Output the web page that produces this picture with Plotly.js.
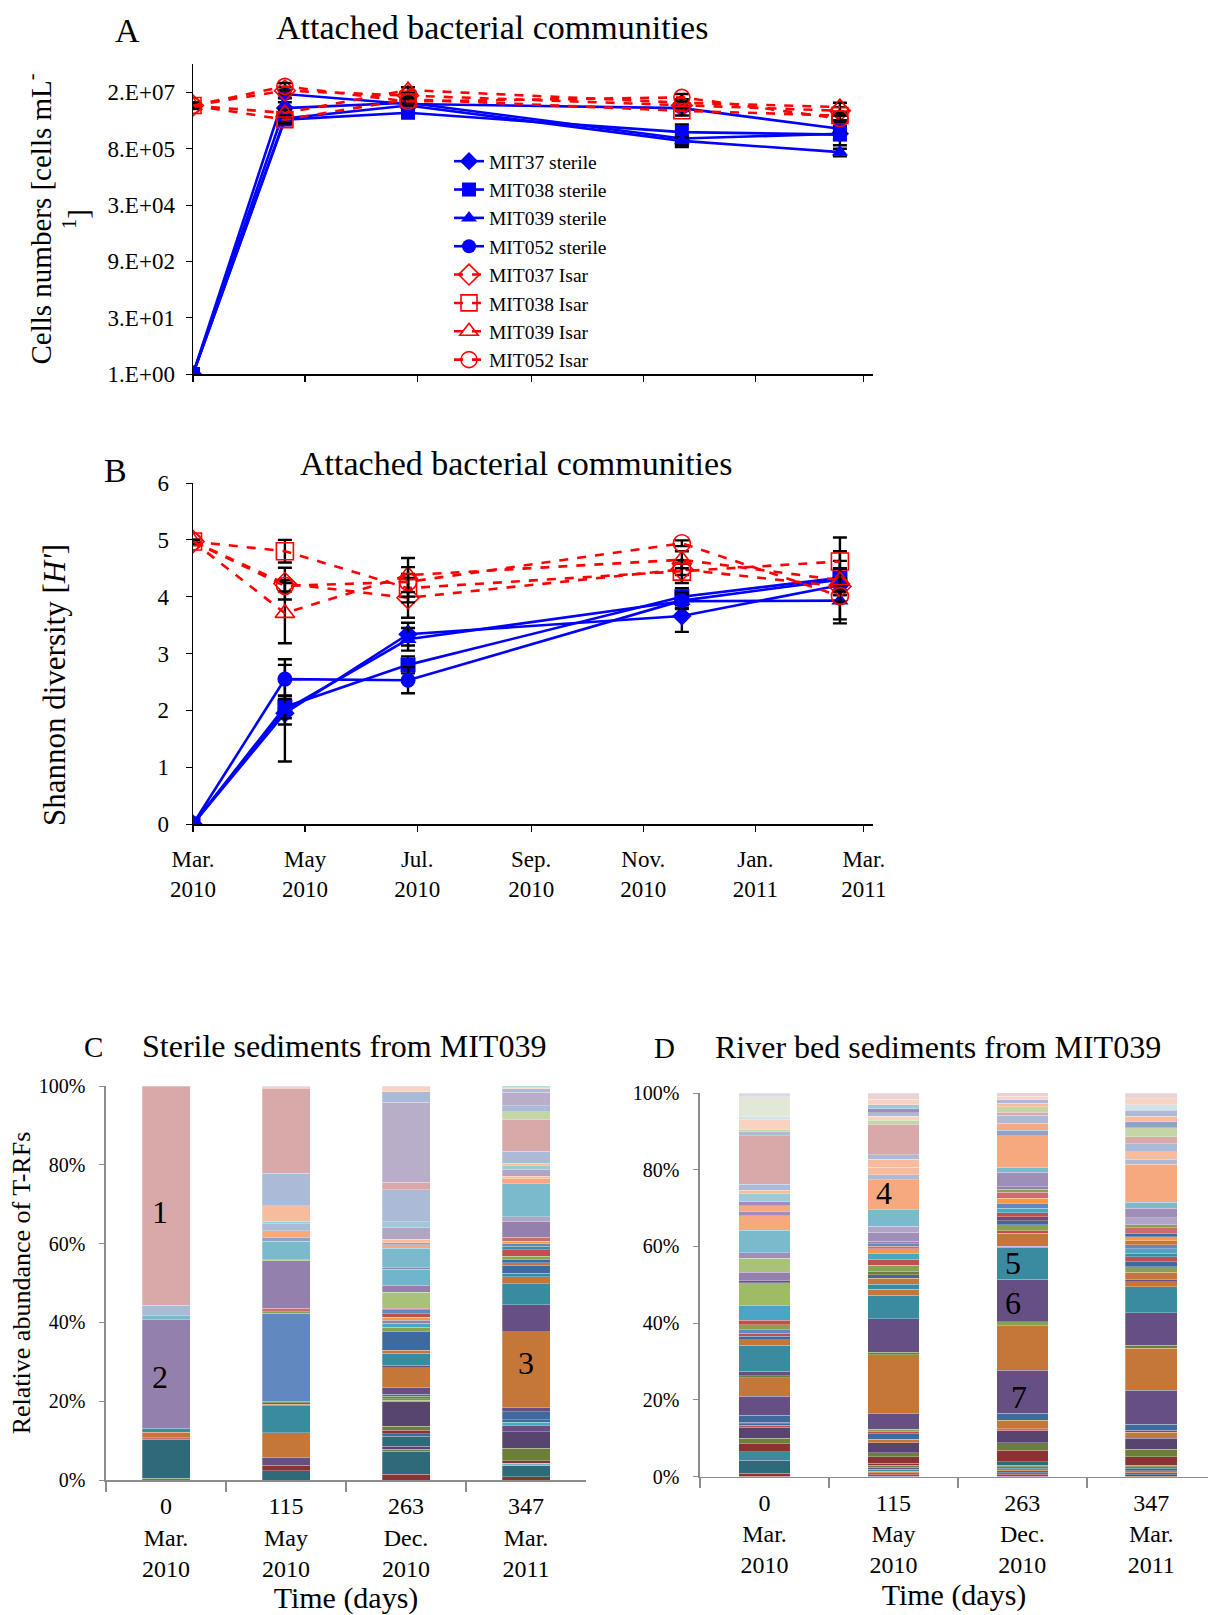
<!DOCTYPE html>
<html>
<head>
<meta charset="utf-8">
<script src="https://cdn.plot.ly/plotly-3.0.1.min.js"></script>
<style>html,body{margin:0;padding:0;background:#fff;}#chart{width:1208px;height:1615px;}</style>
</head>
<body>
<div id="chart"></div>
<script>
// ---------- Panels A and B: sampling dates ----------
const sampleDates = ['2010-03-01','2010-04-20','2010-06-26','2010-11-22','2011-02-16'];
const seriesNames = ['MIT37 sterile','MIT038 sterile','MIT039 sterile','MIT052 sterile','MIT037 Isar','MIT038 Isar','MIT039 Isar','MIT052 Isar'];

// Panel A: cell numbers (cells mL-1)
const cellsMIT37s  = [1, 9.4e6, 1.3e7, 1.5e6, 2.0e6];
const cellsMIT038s = [1, 4.7e6, 7.1e6, 2.2e6, 1.9e6];
const cellsMIT039s = [1, 5.0e6, 1.1e7, 1.3e6, 6.6e5];
const cellsMIT052s = [1, 2.2e7, 1.2e7, 9.4e6, 2.7e6];
const cellsMIT037i = [1.1e7, 2.7e7, 2.0e7, 1.1e7, 8.0e6];
const cellsMIT038i = [1.1e7, 4.7e6, 1.6e7, 8.0e6, 6.0e6];
const cellsMIT039i = [1.1e7, 7.0e6, 2.8e7, 1.3e7, 1.0e7];
const cellsMIT052i = [1.1e7, 3.5e7, 1.4e7, 1.8e7, 5.0e6];
const errA_MIT37s  = [0, 4e6, 2e6, 3e5, 1.0e6];
const errA_MIT038s = [0, 1e6, 1e6, 1.3e6, 5e5];
const errA_MIT039s = [0, 1e6, 2e6, 3e5, 1.5e5];
const errA_MIT052s = [0, 5e6, 2e6, 1.5e6, 5e5];
const errA_MIT037i = [2e6, 6e6, 4e6, 2e6, 2e6];
const errA_MIT038i = [2e6, 1e6, 3e6, 2e6, 1.5e6];
const errA_MIT039i = [2e6, 1.5e6, 5e6, 3e6, 3e6];
const errA_MIT052i = [2e6, 8e6, 3e6, 4e6, 1e6];
const cellTickVals = [1, 30, 900, 27000, 810000, 24300000];
const cellTickText = ['1.E+00','3.E+01','9.E+02','3.E+04','8.E+05','2.E+07'];

// Panel B: Shannon diversity H'
const hMIT37s  = [0, 1.95, 3.34, 3.66, 4.20];
const hMIT038s = [0, 2.06, 2.80, 4.00, 4.33];
const hMIT039s = [0, 2.00, 3.25, 3.92, 3.93];
const hMIT052s = [0, 2.55, 2.53, 3.93, 4.30];
const hMIT037i = [4.97, 4.23, 3.98, 4.48, 4.18];
const hMIT038i = [4.97, 4.80, 4.15, 4.44, 4.62];
const hMIT039i = [4.97, 3.71, 4.38, 4.65, 4.29];
const hMIT052i = [4.97, 4.19, 4.26, 4.94, 4.01];
const errB_MIT37s  = [0, 0.85, 0.20, 0.28, 0.60];
const errB_MIT038s = [0, 0.20, 0.15, 0.15, 0.30];
const errB_MIT039s = [0, 0.25, 0.20, 0.12, 0.40];
const errB_MIT052s = [0, 0.35, 0.23, 0.15, 0.20];
const errB_MIT037i = [0.03, 0.28, 0.35, 0.10, 0.15];
const errB_MIT038i = [0.03, 0.20, 0.25, 0.20, 0.42];
const errB_MIT039i = [0.03, 0.53, 0.30, 0.15, 0.20];
const errB_MIT052i = [0.03, 0.10, 0.26, 0.05, 0.10];
const monthTickDates = ['2010-03-01','2010-05-01','2010-07-01','2010-09-01','2010-11-01','2011-01-01','2011-03-01'];
const monthTickText = ['Mar.<br>2010','May<br>2010','Jul.<br>2010','Sep.<br>2010','Nov.<br>2010','Jan.<br>2011','Mar.<br>2011'];

// ---------- Panels C and D: T-RF relative abundance (%) ----------
const barDays = [0, 115, 263, 347];
const barMonths = ['Mar.', 'May', 'Dec.', 'Mar.'];
const barYears = ['2010', '2010', '2010', '2011'];
const pctTickVals = [0, 20, 40, 60, 80, 100];
const pctTickText = ['0%', '20%', '40%', '60%', '80%', '100%'];

// C: sterile sediments from MIT039 (segments bottom -> top)
const c0Vals = [0.4, 10.0, 0.3, 1.4, 1.0, 27.7, 0.9, 2.7, 55.6];
const c1Vals = [2.4, 1.35, 2.0, 6.3, 6.8, 0.4, 0.3, 0.4, 22.4, 0.4, 0.85, 12.0, 0.35, 4.65, 1.0, 1.7, 1.7, 0.7, 3.9, 8.3, 21.5, 0.6];
const c2Vals = [1.5, 5.8, 0.5, 0.75, 2.5, 0.7, 0.85, 1.1, 6.1, 0.45, 0.4, 0.6, 0.5, 1.85, 4.9, 0.6, 3.1, 0.7, 4.9, 1.0, 1.0, 0.7, 0.85, 0.85, 1.0, 0.4, 4.0, 1.85, 4.0, 0.4, 5.0, 0.85, 0.5, 0.85, 3.05, 1.45, 8.1, 1.95, 20.3, 2.7, 1.4];
const c3Vals = [0.85, 2.8, 0.6, 0.6, 3.2, 4.2, 1.7, 0.65, 0.65, 2.1, 1.1, 19.2, 6.8, 5.3, 1.9, 0.85, 1.85, 0.85, 0.7, 0.85, 1.7, 0.85, 0.6, 0.65, 1.0, 4.05, 1.2, 8.4, 1.45, 0.4, 1.85, 0.85, 0.7, 3.05, 8.05, 1.95, 1.5, 3.4, 0.85, 0.5, 0.3];
// D: river bed sediments from MIT039
const d0Vals = [0.8, 3.5, 2.2, 2.0, 1.5, 2.8, 0.5, 0.45, 0.45, 1.75, 4.95, 4.8, 0.6, 1.1, 6.8, 1.4, 0.95, 0.85, 0.85, 1.3, 1.2, 3.8, 6.0, 0.45, 2.25, 3.65, 1.5, 5.75, 3.8, 1.2, 1.5, 1.05, 2.0, 0.95, 1.55, 12.7, 1.05, 0.6, 2.45, 0.85, 5.2, 0.95];
const d1Vals = [0.5, 0.5, 0.4, 0.5, 0.5, 0.5, 0.5, 1.75, 1.1, 2.6, 0.85, 1.4, 0.6, 0.6, 4.25, 15.2, 0.7, 8.7, 6.1, 1.55, 1.3, 1.65, 0.85, 0.95, 1.5, 1.55, 1.5, 1.3, 0.7, 0.65, 0.65, 2.35, 1.5, 4.35, 7.8, 1.3, 2.0, 2.0, 1.15, 8.0, 1.05, 1.0, 1.0, 1.0, 1.0, 1.5, 1.55];
const d2Vals = [0.5, 0.5, 0.5, 0.5, 0.5, 0.5, 0.85, 3.05, 1.9, 3.1, 0.6, 2.2, 1.75, 11.3, 11.55, 1.05, 11.1, 8.2, 0.45, 3.3, 0.7, 1.5, 1.05, 1.05, 1.05, 1.2, 1.3, 1.3, 1.55, 0.75, 0.75, 3.75, 1.3, 8.25, 1.4, 1.75, 2.1, 0.85, 1.4, 0.9, 0.9, 0.9, 0.95];
const d3Vals = [0.5, 0.5, 0.5, 0.5, 0.5, 0.5, 2.2, 1.9, 2.85, 1.55, 0.6, 1.5, 8.95, 10.85, 0.85, 8.45, 6.8, 1.3, 0.6, 1.8, 1.5, 1.3, 1.3, 0.85, 1.3, 1.0, 1.0, 1.05, 0.85, 1.5, 0.85, 1.75, 2.45, 1.55, 10.0, 1.3, 1.9, 2.1, 1.8, 2.45, 1.5, 1.5, 1.5, 1.5, 1.5, 1.45];

// ---------- styles ----------
const PAL = {
  pink:'#d9a9aa', palePink:'#e9d3d3', lavBlue:'#abbad6', lavGrey:'#b9aec9', purpleL:'#9380ad', lav:'#9f8fb8', lavM:'#b0a5c4',
  blueMid:'#6189c0', blueDk:'#3f6a9e', blueLav:'#8ea3cc', teal:'#3a8ba0', tealDk:'#2d6b7a', tealL:'#7bbacd', tealL2:'#6fb6cd',
  cyan:'#4aa6c4', lightBlue:'#9ccbd8', paleBlue:'#d2e2ec', orange:'#c5773a', orangeL:'#f6a97e', orangeB:'#f39a4a',
  peach:'#f7bc9d', peachL:'#f9d2c2', purpleDk:'#664f82', purpleDD:'#58456f', red:'#c0504d', redDk:'#8b3333', pinkRed:'#c96d6e',
  olive:'#6b7f3a', green:'#8aa052', greenL:'#a9c27a', greenM:'#9fbb66', greenLL:'#c4d6a6', paleGreen:'#e2e8d8', paleLav:'#dcd8e8'
};
const c0Cols = ['olive','tealDk','pinkRed','orange','teal','purpleL','tealL','lavBlue','pink'];
const c1Cols = ['tealDk','redDk','purpleDk','orange','teal','orange','blueDk','olive','blueMid','green','pinkRed','purpleL','greenL','tealL','blueLav','orangeL','lavBlue','lightBlue','peach','lavBlue','pink','palePink'];
const c2Cols = ['redDk','tealDk','olive','purpleDD','tealDk','blueDk','redDk','olive','purpleDD','green','blueMid','olive','blueDk','purpleDk','orange','purpleDk','teal','orange','blueDk','green','cyan','purpleL','orangeB','red','blueMid','pinkRed','greenL','purpleL','tealL2','purpleL','tealL','orangeL','blueLav','peach','lavM','lightBlue','lavBlue','pink','lavGrey','lavBlue','peachL'];
const c3Cols = ['redDk','tealDk','tealL2','redDk','olive','purpleDD','purpleDk','cyan','blueDk','blueDk','purpleDk','orange','purpleDk','teal','orange','teal','blueDk','orange','blueDk','green','red','teal','blueMid','orangeB','pinkRed','purpleL','lavM','tealL','orangeL','peach','lavM','lightBlue','peach','lavBlue','pink','greenLL','lavBlue','lavGrey','lavBlue','peachL','lightBlue'];
const d0Cols = ['redDk','tealDk','teal','redDk','olive','purpleDD','red','blueDk','purpleDk','blueDk','purpleDk','orange','olive','purpleDk','teal','orange','blueDk','red','blueMid','green','red','cyan','greenM','purpleDk','purpleL','greenL','lav','tealL','orangeL','lav','orangeL','lav','lightBlue','peach','lavBlue','pink','lavBlue','greenLL','peachL','paleBlue','paleGreen','paleLav'];
const d1Cols = ['blueDk','red','orange','teal','purpleDk','olive','redDk','redDk','olive','purpleDD','orange','blueDk','red','green','purpleDk','orange','olive','purpleDk','teal','orange','teal','orange','blueDk','olive','green','red','cyan','orangeB','pinkRed','blueMid','purpleL','lav','lavM','tealL','orangeL','lavBlue','peach','peach','lavBlue','pink','greenLL','peachL','lavBlue','lav','lightBlue','peachL','palePink'];
const d2Cols = ['purpleDk','red','blueDk','orange','teal','olive','tealDk','redDk','olive','purpleDD','pinkRed','orange','blueDk','purpleDk','orange','green','purpleDk','teal','lav','orange','red','green','blueDk','purpleDk','red','cyan','blueMid','orangeB','pinkRed','green','purpleL','lav','tealL','orangeL','blueLav','orangeL','lavBlue','pink','greenLL','peach','lavBlue','peachL','palePink'];
const d3Cols = ['redDk','blueDk','orange','purpleDk','teal','olive','redDk','olive','purpleDD','orange','purpleDk','blueDk','purpleDk','orange','olive','purpleDk','teal','orange','purpleDk','orange','green','blueDk','red','teal','cyan','blueMid','orange','orangeB','blueDk','pinkRed','green','lavM','lav','tealL','orangeL','lavBlue','peach','lavBlue','pink','greenLL','blueLav','peach','lavBlue','paleBlue','peachL','palePink'];

const SERIF = "'Liberation Serif', 'Times New Roman', serif";
const W = 1208, H = 1615;
const px = v => v / W;
const py = v => 1 - v / H;

const traces = [];
const aData = [cellsMIT37s, cellsMIT038s, cellsMIT039s, cellsMIT052s, cellsMIT037i, cellsMIT038i, cellsMIT039i, cellsMIT052i];
const aErr  = [errA_MIT37s, errA_MIT038s, errA_MIT039s, errA_MIT052s, errA_MIT037i, errA_MIT038i, errA_MIT039i, errA_MIT052i];
const bData = [hMIT37s, hMIT038s, hMIT039s, hMIT052s, hMIT037i, hMIT038i, hMIT039i, hMIT052i];
const bErr  = [errB_MIT37s, errB_MIT038s, errB_MIT039s, errB_MIT052s, errB_MIT037i, errB_MIT038i, errB_MIT039i, errB_MIT052i];
const symbols = ['diamond','square','triangle-up','circle','diamond-open','square-open','triangle-up-open','circle-open'];

function lineTrace(i, ys, errs, xa, ya, showLeg, big) {
  const isar = i >= 4;
  const col = isar ? '#ff0000' : '#0000ff';
  return {
    type: 'scatter', mode: 'lines+markers', name: seriesNames[i],
    x: sampleDates, y: ys, xaxis: xa, yaxis: ya, showlegend: showLeg, legendgroup: 'g' + i,
    line: { color: col, width: 2.6, dash: isar ? 'dash' : 'solid' },
    marker: { symbol: symbols[i], size: isar ? big + 2 : big, color: col, line: { color: col, width: isar ? 1.6 : 0 } },
    error_y: { type: 'data', array: errs, visible: true, color: '#000', thickness: 2.4, width: 7 },
    hoverinfo: 'x+y+name'
  };
}
for (let i = 0; i < 8; i++) traces.push(lineTrace(i, aData[i], aErr[i], 'x', 'y', true, 14));
for (let i = 0; i < 8; i++) traces.push(lineTrace(i, bData[i], bErr[i], 'x2', 'y2', false, 15));

const barCats = barDays.map((d, i) => d + '<br>' + barMonths[i] + '<br>' + barYears[i]);
function addBar(catIdx, vals, cols, xa, ya, w) {
  vals.forEach((v, i) => traces.push({
    type: 'bar', x: [barCats[catIdx]], y: [v], xaxis: xa, yaxis: ya, width: w,
    marker: { color: PAL[cols[i]], line: { color: 'rgba(255,255,255,0.45)', width: 0.6 } },
    showlegend: false, hoverinfo: 'y'
  }));
}
addBar(0, c0Vals, c0Cols, 'x3', 'y3', 0.4);
addBar(1, c1Vals, c1Cols, 'x3', 'y3', 0.4);
addBar(2, c2Vals, c2Cols, 'x3', 'y3', 0.4);
addBar(3, c3Vals, c3Cols, 'x3', 'y3', 0.4);
addBar(0, d0Vals, d0Cols, 'x4', 'y4', 0.4);
addBar(1, d1Vals, d1Cols, 'x4', 'y4', 0.4);
addBar(2, d2Vals, d2Cols, 'x4', 'y4', 0.4);
addBar(3, d3Vals, d3Cols, 'x4', 'y4', 0.4);

const dateAxis = {
  type: 'date', range: ['2010-03-01', '2011-03-06'], domain: [px(193), px(873)],
  showline: true, linecolor: '#000', linewidth: 1.5, showgrid: false, zeroline: false,
  ticks: 'outside', ticklen: 6, tickwidth: 1.3, tickcolor: '#000',
  tickmode: 'array', tickvals: monthTickDates, ticktext: monthTickText
};
const catTickFont = { family: SERIF, size: 24, color: '#000' };

function ann(text, x, y, size, angle) {
  return { text: text, x: px(x), y: py(y), xref: 'paper', yref: 'paper', xanchor: 'center', yanchor: 'middle', textangle: angle || 0, showarrow: false, font: { family: SERIF, size: size, color: '#000' } };
}
function barAnn(text, cat, y, xa, ya, xs) {
  return { text: text, x: barCats[cat], y: y, xref: xa, yref: ya, xshift: xs, xanchor: 'center', yanchor: 'middle', showarrow: false, font: { family: SERIF, size: 32, color: '#000' } };
}

const layout = {
  width: W, height: H, margin: { l: 0, r: 0, t: 0, b: 0, pad: 0 },
  paper_bgcolor: '#fff', plot_bgcolor: 'rgba(0,0,0,0)',
  font: { family: SERIF, color: '#000' },
  barmode: 'stack', showlegend: true,
  legend: {
    x: px(449), y: py(142), xanchor: 'left', yanchor: 'top',
    font: { family: SERIF, size: 19.5, color: '#000' }, bgcolor: 'rgba(0,0,0,0)', borderwidth: 0,
    tracegroupgap: 0, itemwidth: 30
  },
  xaxis: Object.assign({}, dateAxis, { anchor: 'y', showticklabels: false }),
  yaxis: {
    type: 'log', range: [0, 8.13], domain: [py(374), py(64)], anchor: 'x',
    tickmode: 'array', tickvals: cellTickVals, ticktext: cellTickText,
    showline: true, linecolor: '#000', linewidth: 1.5, showgrid: false, zeroline: false,
    ticks: 'outside', ticklen: 6, tickcolor: '#000', ticklabelstandoff: 6,
    tickfont: { family: SERIF, size: 23, color: '#000' },
    title: { text: 'Cells numbers [cells mL<sup>-</sup><br><sup>1</sup>]', font: { family: SERIF, size: 29, color: '#000' }, standoff: 10 }
  },
  xaxis2: Object.assign({}, dateAxis, { anchor: 'y2', tickfont: { family: SERIF, size: 23, color: '#000' }, ticklabelstandoff: 8 }),
  yaxis2: {
    range: [0, 6], domain: [py(824), py(483)], anchor: 'x2', dtick: 1,
    showline: true, linecolor: '#000', linewidth: 1.5, showgrid: false, zeroline: false,
    ticks: 'outside', ticklen: 6, tickcolor: '#000', ticklabelstandoff: 12,
    tickfont: { family: SERIF, size: 23, color: '#000' }
  },
  xaxis3: {
    type: 'category', domain: [px(106), px(586)], range: [-0.5, 3.5], anchor: 'y3',
    showline: true, linecolor: '#8c8c8c', linewidth: 1.6, showgrid: false, zeroline: false,
    ticks: 'outside', tickson: 'boundaries', ticklen: 10, tickcolor: '#8c8c8c', tickwidth: 1.6,
    tickfont: catTickFont, ticklabelstandoff: 4,
    title: { text: 'Time (days)', font: { family: SERIF, size: 30, color: '#000' }, standoff: 2 }
  },
  yaxis3: {
    range: [0, 100], domain: [py(1480), py(1086)], anchor: 'x3', tickmode: 'array', tickvals: pctTickVals, ticktext: pctTickText,
    showline: true, linecolor: '#8c8c8c', linewidth: 1.6, showgrid: false, zeroline: false,
    ticks: 'outside', ticklen: 5, tickcolor: '#8c8c8c', ticklabelstandoff: 10,
    tickfont: { family: SERIF, size: 20, color: '#000' },
    title: { text: 'Relative abundance of T-RFs', font: { family: SERIF, size: 26, color: '#000' }, standoff: 0 }
  },
  xaxis4: {
    type: 'category', domain: [px(700), 1], range: [-0.5, 3.44], anchor: 'y4',
    showline: true, linecolor: '#8c8c8c', linewidth: 1.6, showgrid: false, zeroline: false,
    ticks: 'outside', tickson: 'boundaries', ticklen: 10, tickcolor: '#8c8c8c', tickwidth: 1.6,
    tickfont: catTickFont, ticklabelstandoff: 4,
    title: { text: 'Time (days)', font: { family: SERIF, size: 30, color: '#000' }, standoff: 2 }
  },
  yaxis4: {
    range: [0, 100], domain: [py(1476.5), py(1093)], anchor: 'x4', tickmode: 'array', tickvals: pctTickVals, ticktext: pctTickText,
    showline: true, linecolor: '#8c8c8c', linewidth: 1.6, showgrid: false, zeroline: false,
    ticks: 'outside', ticklen: 5, tickcolor: '#8c8c8c', ticklabelstandoff: 10,
    tickfont: { family: SERIF, size: 20, color: '#000' }
  },
  annotations: [
    ann('A', 127, 31, 34),
    ann('Attached bacterial communities', 492, 28, 34),
    ann('B', 115, 470, 34),
    ann('Attached bacterial communities', 516, 463, 34),
    ann("Shannon diversity [<i>H'</i>]", 54, 685, 31, -90),
    ann('C', 93, 1047, 29),
    ann('Sterile sediments from MIT039', 344, 1046, 32),
    ann('D', 664, 1048, 29),
    ann('River bed sediments from MIT039', 938, 1047, 32),
    barAnn('1', 0, 68, 'x3', 'y3', -6),
    barAnn('2', 0, 26.2, 'x3', 'y3', -6),
    barAnn('3', 3, 29.6, 'x3', 'y3', 0),
    barAnn('4', 1, 73.9, 'x4', 'y4', -9),
    barAnn('5', 2, 55.6, 'x4', 'y4', -9),
    barAnn('6', 2, 45.2, 'x4', 'y4', -9),
    barAnn('7', 2, 20.8, 'x4', 'y4', -3)
  ]
};

Plotly.newPlot('chart', traces, layout, { displayModeBar: false, staticPlot: true });
</script>
</body>
</html>
